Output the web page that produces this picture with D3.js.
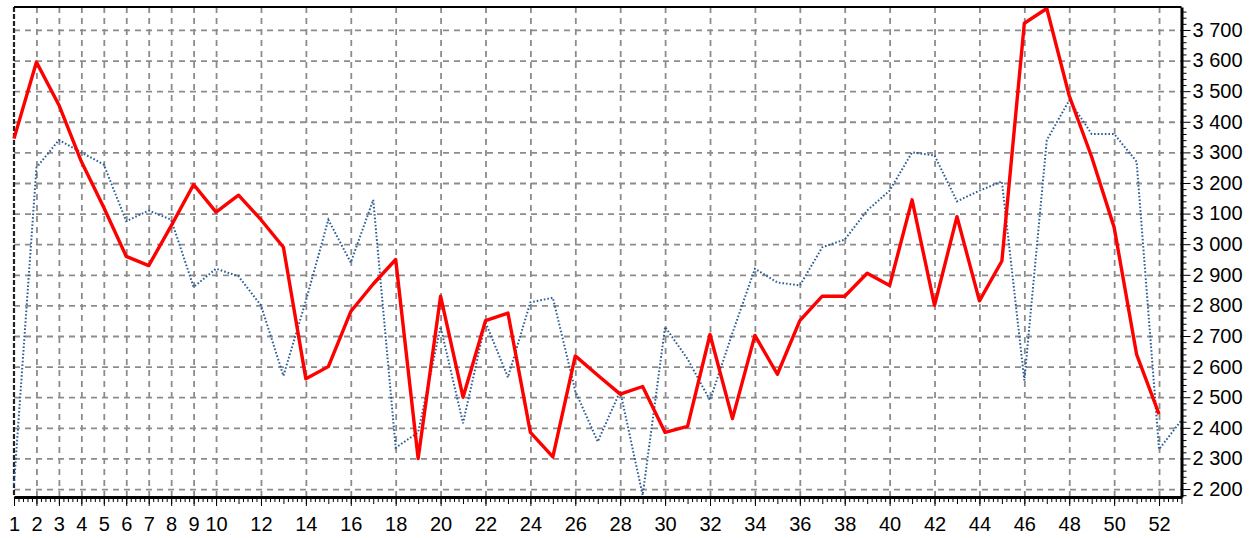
<!DOCTYPE html>
<html>
<head>
<meta charset="utf-8">
<script src="https://cdn.jsdelivr.net/npm/d3@7"></script>
<style>
  body { margin: 0; background: #fff; }
  svg { display: block; font-family: "Liberation Sans", Arial, sans-serif; }
</style>
</head>
<body>
<div id="viz"></div>
<script>
const weeks = [1, 2, 3, 4, 5, 6, 7, 8, 9, 10, 11, 12, 13, 14, 15, 16, 17, 18, 19, 20,
               21, 22, 23, 24, 25, 26, 27, 28, 29, 30, 31, 32, 33, 34, 35, 36, 37, 38, 39, 40,
               41, 42, 43, 44, 45, 46, 47, 48, 49, 50, 51, 52, 53]

// red, thick line (weeks 1..52)
const redValues = [3345, 3595, 3455, 3270, 3120, 2960, 2930, 3060, 3195, 3105,
                   3160, 3080, 2990, 2560, 2600, 2780, 2870, 2950, 2300, 2830,
                   2500, 2750, 2775, 2385, 2305, 2635, 2572, 2510, 2535, 2385,
                   2405, 2705, 2430, 2702, 2575, 2750, 2830, 2830, 2905, 2865,
                   3145, 2800, 3090, 2815, 2945, 3722, 3770, 3485, 3285, 3055,
                   2640, 2445]

// blue, dotted line (weeks 1..53)
const blueValues = [2215, 3250, 3340, 3300, 3260, 3075, 3110, 3080, 2860, 2920,
                    2895, 2800, 2570, 2815, 3080, 2940, 3145, 2335, 2385, 2730,
                    2415, 2745, 2565, 2810, 2825, 2520, 2355, 2520, 2180, 2730,
                    2625, 2490, 2710, 2920, 2875, 2865, 2990, 3015, 3110, 3175,
                    3300, 3290, 3140, 3175, 3205, 2555, 3340, 3470, 3360, 3360,
                    3270, 2330, 2425]

const xTickLabels = [1, 2, 3, 4, 5, 6, 7, 8, 9, 10, 12, 14, 16, 18, 20, 22, 24, 26,
                     28, 30, 32, 34, 36, 38, 40, 42, 44, 46, 48, 50, 52]
const yTickValues = [2200, 2300, 2400, 2500, 2600, 2700, 2800, 2900, 3000,
                     3100, 3200, 3300, 3400, 3500, 3600, 3700]

const width = 1255
const height = 538
const plot = {left: 14, right: 1181.5, top: 7, bottom: 497}

const svg = d3.select("#viz").append("svg").attr("width", width).attr("height", height)

const xScale = d3.scaleLinear().domain([1, 53]).range([plot.left, plot.right])
const yScale = d3.scaleLinear().domain([2174, 3775]).range([plot.bottom, plot.top])

// thousands with a space: "3 700"
const fmt = d3.formatLocale({decimal: ",", thousands: " ", grouping: [3], currency: ["", ""]}).format(",")

const gridStyle = g => g.selectAll("line")
    .attr("stroke", "#8c8c8c")
    .attr("stroke-width", 1.8)
    .attr("stroke-dasharray", "6,5")

// vertical grid
svg.append("g")
    .attr("transform", `translate(0, ${plot.top})`)
    .call(d3.axisTop(xScale).tickValues(xTickLabels.slice(1)).tickSize(-(plot.bottom - plot.top)).tickFormat(""))
    .call(g => g.select(".domain").remove())
    .call(gridStyle)

// horizontal grid
svg.append("g")
    .attr("transform", `translate(${plot.left}, 0)`)
    .call(d3.axisLeft(yScale).tickValues(yTickValues).tickSize(-(plot.right - plot.left)).tickFormat(""))
    .call(g => g.select(".domain").remove())
    .call(gridStyle)

// left edge is a dark dashed line
svg.append("line")
    .attr("x1", xScale(1)).attr("x2", xScale(1))
    .attr("y1", plot.top).attr("y2", plot.bottom)
    .attr("stroke", "#222").attr("stroke-width", 2.2).attr("stroke-dasharray", "5,2")

const line = d3.line()
    .x((d, i) => xScale(weeks[i]))
    .y(d => yScale(d))

svg.append("path")
    .datum(blueValues)
    .attr("d", line)
    .attr("fill", "none")
    .attr("stroke", "#2b5d96")
    .attr("stroke-width", 2)
    .attr("stroke-dasharray", "1.6,2")

svg.append("path")
    .datum(redValues)
    .attr("d", line)
    .attr("fill", "none")
    .attr("stroke", "#ff0000")
    .attr("stroke-width", 3.4)
    .attr("stroke-linejoin", "round")

// top border
svg.append("line")
    .attr("x1", plot.left).attr("x2", plot.right)
    .attr("y1", plot.top).attr("y2", plot.top)
    .attr("stroke", "#000").attr("stroke-width", 2)

// right axis: minor ticks every 20, labels every 100
const yMinor = d3.range(2180, 3775, 20).filter(v => v % 100 !== 0)
svg.append("g")
    .attr("transform", `translate(${plot.right}, 0)`)
    .call(d3.axisRight(yScale).tickValues(yMinor).tickSize(5).tickFormat(""))
    .call(g => g.select(".domain").remove())
    .call(g => g.selectAll("line").attr("stroke", "#000"))

svg.append("g")
    .attr("transform", `translate(${plot.right}, 0)`)
    .call(d3.axisRight(yScale).tickValues(yTickValues).tickSize(9).tickSizeOuter(0).tickPadding(2).tickFormat(fmt))
    .call(g => g.select(".domain").attr("stroke", "#000").attr("stroke-width", 3))
    .call(g => g.selectAll("text").attr("font-size", 20).attr("fill", "#000").attr("font-family", "Liberation Sans, Arial, sans-serif"))

// bottom axis: minor ticks every 0.2, integers, labels
const xMinor = d3.range(1, 53.01, 0.2).filter(v => Math.abs(v - Math.round(v)) > 0.01)
svg.append("g")
    .attr("transform", `translate(0, ${plot.bottom})`)
    .call(d3.axisBottom(xScale).tickValues(xMinor).tickSize(5).tickFormat(""))
    .call(g => g.select(".domain").remove())
    .call(g => g.selectAll("line").attr("stroke", "#000"))

svg.append("g")
    .attr("transform", `translate(0, ${plot.bottom})`)
    .call(d3.axisBottom(xScale).tickValues(weeks).tickSize(7).tickFormat(""))
    .call(g => g.select(".domain").remove())
    .call(g => g.selectAll("line").attr("stroke", "#000"))

svg.append("g")
    .attr("transform", `translate(0, ${plot.bottom})`)
    .call(d3.axisBottom(xScale).tickValues(xTickLabels).tickSize(9).tickSizeOuter(0).tickPadding(11).tickFormat(d3.format("d")))
    .call(g => g.select(".domain").attr("stroke", "#000").attr("stroke-width", 3))
    .call(g => g.selectAll("text").attr("font-size", 20).attr("fill", "#000").attr("font-family", "Liberation Sans, Arial, sans-serif"))
</script>
</body>
</html>
